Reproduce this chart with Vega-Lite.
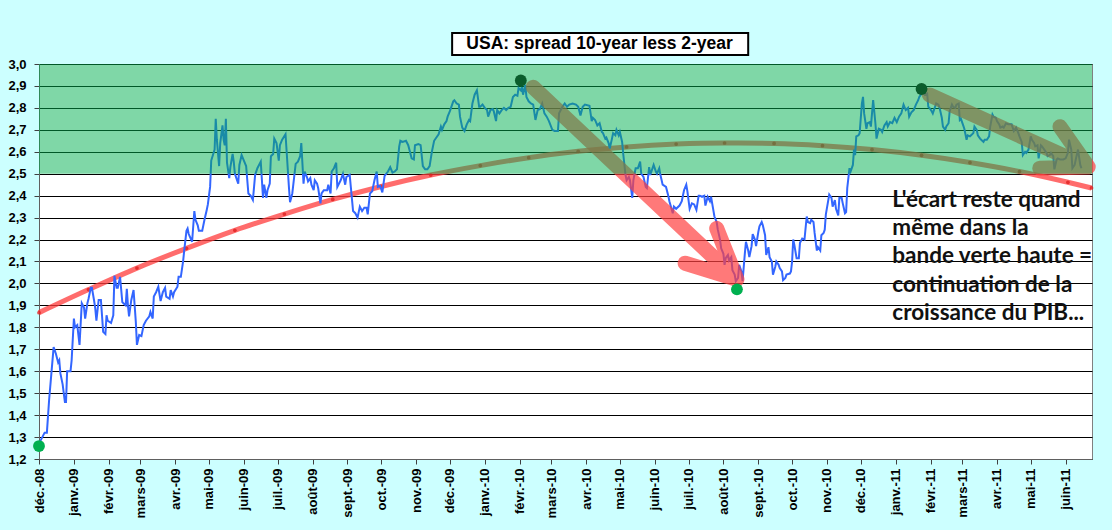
{
  "$schema": "https://vega.github.io/schema/vega-lite/v6.json",
  "width": 1053,
  "height": 395,
  "autosize": {"type": "none"},
  "padding": {"left": 39, "top": 64, "right": 20, "bottom": 71},
  "background": "#CCFFFF",
  "config": {
    "view": {"fill": "white", "stroke": "#808080", "strokeWidth": 1},
    "axis": {
      "labelFont": "Liberation Sans",
      "labelFontWeight": "bold",
      "labelFontSize": 13,
      "labelColor": "black",
      "domainColor": "#606060",
      "tickColor": "#404040",
      "tickSize": 5,
      "title": null
    }
  },
  "datasets": {
    "spread": [
      {"d": "2008-12-01", "v": 1.27}, {"d": "2008-12-06", "v": 1.32}, {"d": "2008-12-08", "v": 1.32}, {"d": "2008-12-10", "v": 1.47},
      {"d": "2008-12-12", "v": 1.59}, {"d": "2008-12-14", "v": 1.71}, {"d": "2008-12-16", "v": 1.68}, {"d": "2008-12-18", "v": 1.64},
      {"d": "2008-12-19", "v": 1.65}, {"d": "2008-12-20", "v": 1.59}, {"d": "2008-12-22", "v": 1.54}, {"d": "2008-12-24", "v": 1.46},
      {"d": "2008-12-25", "v": 1.46}, {"d": "2008-12-26", "v": 1.60}, {"d": "2008-12-29", "v": 1.60}, {"d": "2008-12-30", "v": 1.65},
      {"d": "2009-01-01", "v": 1.84}, {"d": "2009-01-02", "v": 1.80}, {"d": "2009-01-04", "v": 1.81}, {"d": "2009-01-06", "v": 1.72},
      {"d": "2009-01-08", "v": 1.91}, {"d": "2009-01-10", "v": 1.89}, {"d": "2009-01-11", "v": 1.84}, {"d": "2009-01-13", "v": 1.91},
      {"d": "2009-01-14", "v": 1.93}, {"d": "2009-01-16", "v": 1.98}, {"d": "2009-01-17", "v": 1.98}, {"d": "2009-01-19", "v": 1.92},
      {"d": "2009-01-20", "v": 1.885}, {"d": "2009-01-21", "v": 1.83}, {"d": "2009-01-23", "v": 1.925}, {"d": "2009-01-25", "v": 1.925},
      {"d": "2009-01-27", "v": 1.78}, {"d": "2009-01-29", "v": 1.77}, {"d": "2009-01-30", "v": 1.855}, {"d": "2009-01-31", "v": 1.83},
      {"d": "2009-02-03", "v": 1.82}, {"d": "2009-02-05", "v": 1.855}, {"d": "2009-02-06", "v": 2.035}, {"d": "2009-02-08", "v": 1.98},
      {"d": "2009-02-09", "v": 1.98}, {"d": "2009-02-11", "v": 2.03}, {"d": "2009-02-13", "v": 1.915}, {"d": "2009-02-14", "v": 1.91},
      {"d": "2009-02-16", "v": 1.90}, {"d": "2009-02-17", "v": 1.975}, {"d": "2009-02-18", "v": 1.90}, {"d": "2009-02-19", "v": 1.85},
      {"d": "2009-02-21", "v": 1.925}, {"d": "2009-02-23", "v": 1.97}, {"d": "2009-02-25", "v": 1.825}, {"d": "2009-02-26", "v": 1.72},
      {"d": "2009-02-28", "v": 1.765}, {"d": "2009-03-02", "v": 1.76}, {"d": "2009-03-04", "v": 1.81}, {"d": "2009-03-06", "v": 1.83},
      {"d": "2009-03-09", "v": 1.85}, {"d": "2009-03-10", "v": 1.87}, {"d": "2009-03-12", "v": 1.84}, {"d": "2009-03-13", "v": 1.94},
      {"d": "2009-03-15", "v": 1.96}, {"d": "2009-03-17", "v": 1.985}, {"d": "2009-03-19", "v": 1.92}, {"d": "2009-03-21", "v": 1.96},
      {"d": "2009-03-23", "v": 1.98}, {"d": "2009-03-24", "v": 1.94}, {"d": "2009-03-27", "v": 1.93}, {"d": "2009-03-28", "v": 1.97},
      {"d": "2009-03-30", "v": 1.94}, {"d": "2009-03-31", "v": 1.96}, {"d": "2009-04-03", "v": 1.985}, {"d": "2009-04-04", "v": 2.03},
      {"d": "2009-04-06", "v": 2.03}, {"d": "2009-04-08", "v": 2.10}, {"d": "2009-04-09", "v": 2.15}, {"d": "2009-04-11", "v": 2.24},
      {"d": "2009-04-12", "v": 2.25}, {"d": "2009-04-13", "v": 2.225}, {"d": "2009-04-16", "v": 2.19}, {"d": "2009-04-18", "v": 2.33},
      {"d": "2009-04-19", "v": 2.29}, {"d": "2009-04-21", "v": 2.265}, {"d": "2009-04-22", "v": 2.24}, {"d": "2009-04-25", "v": 2.24},
      {"d": "2009-04-27", "v": 2.29}, {"d": "2009-04-29", "v": 2.335}, {"d": "2009-04-30", "v": 2.36}, {"d": "2009-05-02", "v": 2.44},
      {"d": "2009-05-03", "v": 2.56}, {"d": "2009-05-06", "v": 2.61}, {"d": "2009-05-07", "v": 2.75}, {"d": "2009-05-08", "v": 2.655},
      {"d": "2009-05-10", "v": 2.535}, {"d": "2009-05-11", "v": 2.64}, {"d": "2009-05-13", "v": 2.72}, {"d": "2009-05-14", "v": 2.655},
      {"d": "2009-05-15", "v": 2.63}, {"d": "2009-05-16", "v": 2.75}, {"d": "2009-05-17", "v": 2.55}, {"d": "2009-05-19", "v": 2.48},
      {"d": "2009-05-20", "v": 2.53}, {"d": "2009-05-22", "v": 2.59}, {"d": "2009-05-23", "v": 2.555}, {"d": "2009-05-24", "v": 2.50},
      {"d": "2009-05-27", "v": 2.455}, {"d": "2009-05-28", "v": 2.54}, {"d": "2009-05-30", "v": 2.585}, {"d": "2009-06-01", "v": 2.56},
      {"d": "2009-06-03", "v": 2.535}, {"d": "2009-06-05", "v": 2.41}, {"d": "2009-06-07", "v": 2.40}, {"d": "2009-06-09", "v": 2.38},
      {"d": "2009-06-11", "v": 2.495}, {"d": "2009-06-13", "v": 2.525}, {"d": "2009-06-16", "v": 2.555}, {"d": "2009-06-18", "v": 2.39},
      {"d": "2009-06-19", "v": 2.45}, {"d": "2009-06-21", "v": 2.39}, {"d": "2009-06-22", "v": 2.425}, {"d": "2009-06-24", "v": 2.455},
      {"d": "2009-06-25", "v": 2.58}, {"d": "2009-06-27", "v": 2.59}, {"d": "2009-06-28", "v": 2.66}, {"d": "2009-06-30", "v": 2.64},
      {"d": "2009-07-02", "v": 2.56}, {"d": "2009-07-03", "v": 2.63}, {"d": "2009-07-05", "v": 2.655}, {"d": "2009-07-08", "v": 2.68},
      {"d": "2009-07-09", "v": 2.60}, {"d": "2009-07-11", "v": 2.44}, {"d": "2009-07-12", "v": 2.37}, {"d": "2009-07-14", "v": 2.41},
      {"d": "2009-07-15", "v": 2.455}, {"d": "2009-07-17", "v": 2.545}, {"d": "2009-07-19", "v": 2.555}, {"d": "2009-07-21", "v": 2.58},
      {"d": "2009-07-22", "v": 2.64}, {"d": "2009-07-24", "v": 2.455}, {"d": "2009-07-25", "v": 2.51}, {"d": "2009-07-27", "v": 2.485},
      {"d": "2009-07-28", "v": 2.465}, {"d": "2009-07-30", "v": 2.48}, {"d": "2009-07-31", "v": 2.45}, {"d": "2009-08-02", "v": 2.425},
      {"d": "2009-08-03", "v": 2.47}, {"d": "2009-08-05", "v": 2.455}, {"d": "2009-08-06", "v": 2.435}, {"d": "2009-08-08", "v": 2.365},
      {"d": "2009-08-09", "v": 2.41}, {"d": "2009-08-11", "v": 2.425}, {"d": "2009-08-14", "v": 2.425}, {"d": "2009-08-15", "v": 2.45},
      {"d": "2009-08-17", "v": 2.41}, {"d": "2009-08-18", "v": 2.51}, {"d": "2009-08-20", "v": 2.525}, {"d": "2009-08-22", "v": 2.55},
      {"d": "2009-08-23", "v": 2.44}, {"d": "2009-08-26", "v": 2.47}, {"d": "2009-08-28", "v": 2.50}, {"d": "2009-08-30", "v": 2.45},
      {"d": "2009-08-31", "v": 2.485}, {"d": "2009-09-03", "v": 2.495}, {"d": "2009-09-04", "v": 2.44}, {"d": "2009-09-06", "v": 2.33},
      {"d": "2009-09-08", "v": 2.32}, {"d": "2009-09-10", "v": 2.30}, {"d": "2009-09-12", "v": 2.35}, {"d": "2009-09-14", "v": 2.33},
      {"d": "2009-09-16", "v": 2.345}, {"d": "2009-09-18", "v": 2.345}, {"d": "2009-09-19", "v": 2.315}, {"d": "2009-09-21", "v": 2.41},
      {"d": "2009-09-23", "v": 2.42}, {"d": "2009-09-25", "v": 2.47}, {"d": "2009-09-27", "v": 2.51}, {"d": "2009-09-28", "v": 2.44},
      {"d": "2009-09-30", "v": 2.445}, {"d": "2009-10-02", "v": 2.415}, {"d": "2009-10-04", "v": 2.49}, {"d": "2009-10-07", "v": 2.51},
      {"d": "2009-10-09", "v": 2.53}, {"d": "2009-10-11", "v": 2.505}, {"d": "2009-10-13", "v": 2.51}, {"d": "2009-10-15", "v": 2.52},
      {"d": "2009-10-17", "v": 2.625}, {"d": "2009-10-18", "v": 2.65}, {"d": "2009-10-20", "v": 2.645}, {"d": "2009-10-23", "v": 2.65},
      {"d": "2009-10-25", "v": 2.63}, {"d": "2009-10-26", "v": 2.61}, {"d": "2009-10-28", "v": 2.57}, {"d": "2009-10-30", "v": 2.565},
      {"d": "2009-10-31", "v": 2.63}, {"d": "2009-11-03", "v": 2.635}, {"d": "2009-11-05", "v": 2.63}, {"d": "2009-11-07", "v": 2.535},
      {"d": "2009-11-09", "v": 2.52}, {"d": "2009-11-11", "v": 2.52}, {"d": "2009-11-13", "v": 2.535}, {"d": "2009-11-15", "v": 2.60},
      {"d": "2009-11-17", "v": 2.65}, {"d": "2009-11-19", "v": 2.665}, {"d": "2009-11-21", "v": 2.68}, {"d": "2009-11-23", "v": 2.715},
      {"d": "2009-11-24", "v": 2.70}, {"d": "2009-11-26", "v": 2.725}, {"d": "2009-11-28", "v": 2.74}, {"d": "2009-11-29", "v": 2.76},
      {"d": "2009-12-01", "v": 2.785}, {"d": "2009-12-02", "v": 2.80}, {"d": "2009-12-04", "v": 2.83}, {"d": "2009-12-05", "v": 2.835},
      {"d": "2009-12-07", "v": 2.82}, {"d": "2009-12-09", "v": 2.815}, {"d": "2009-12-10", "v": 2.76}, {"d": "2009-12-12", "v": 2.71},
      {"d": "2009-12-14", "v": 2.695}, {"d": "2009-12-16", "v": 2.725}, {"d": "2009-12-18", "v": 2.745}, {"d": "2009-12-19", "v": 2.74},
      {"d": "2009-12-21", "v": 2.82}, {"d": "2009-12-23", "v": 2.86}, {"d": "2009-12-25", "v": 2.88}, {"d": "2009-12-27", "v": 2.805},
      {"d": "2009-12-28", "v": 2.805}, {"d": "2009-12-30", "v": 2.815}, {"d": "2010-01-01", "v": 2.80}, {"d": "2010-01-03", "v": 2.79},
      {"d": "2010-01-04", "v": 2.76}, {"d": "2010-01-06", "v": 2.79}, {"d": "2010-01-08", "v": 2.795}, {"d": "2010-01-09", "v": 2.785},
      {"d": "2010-01-11", "v": 2.74}, {"d": "2010-01-12", "v": 2.79}, {"d": "2010-01-14", "v": 2.775}, {"d": "2010-01-16", "v": 2.79},
      {"d": "2010-01-18", "v": 2.80}, {"d": "2010-01-20", "v": 2.79}, {"d": "2010-01-22", "v": 2.80}, {"d": "2010-01-24", "v": 2.805},
      {"d": "2010-01-26", "v": 2.85}, {"d": "2010-01-28", "v": 2.86}, {"d": "2010-01-30", "v": 2.855}, {"d": "2010-01-31", "v": 2.89},
      {"d": "2010-02-02", "v": 2.88}, {"d": "2010-02-03", "v": 2.895}, {"d": "2010-02-04", "v": 2.86}, {"d": "2010-02-06", "v": 2.905},
      {"d": "2010-02-07", "v": 2.85}, {"d": "2010-02-09", "v": 2.83}, {"d": "2010-02-11", "v": 2.82}, {"d": "2010-02-13", "v": 2.815},
      {"d": "2010-02-15", "v": 2.745}, {"d": "2010-02-17", "v": 2.79}, {"d": "2010-02-19", "v": 2.795}, {"d": "2010-02-21", "v": 2.82},
      {"d": "2010-02-23", "v": 2.775}, {"d": "2010-02-25", "v": 2.76}, {"d": "2010-02-27", "v": 2.74}, {"d": "2010-03-02", "v": 2.70},
      {"d": "2010-03-04", "v": 2.695}, {"d": "2010-03-07", "v": 2.695}, {"d": "2010-03-08", "v": 2.775}, {"d": "2010-03-11", "v": 2.805},
      {"d": "2010-03-13", "v": 2.82}, {"d": "2010-03-15", "v": 2.805}, {"d": "2010-03-17", "v": 2.815}, {"d": "2010-03-20", "v": 2.82},
      {"d": "2010-03-23", "v": 2.815}, {"d": "2010-03-25", "v": 2.805}, {"d": "2010-03-27", "v": 2.765}, {"d": "2010-03-29", "v": 2.805},
      {"d": "2010-03-31", "v": 2.815}, {"d": "2010-04-04", "v": 2.81}, {"d": "2010-04-06", "v": 2.74}, {"d": "2010-04-07", "v": 2.755},
      {"d": "2010-04-09", "v": 2.745}, {"d": "2010-04-11", "v": 2.72}, {"d": "2010-04-13", "v": 2.73}, {"d": "2010-04-15", "v": 2.69},
      {"d": "2010-04-16", "v": 2.685}, {"d": "2010-04-18", "v": 2.66}, {"d": "2010-04-19", "v": 2.665}, {"d": "2010-04-21", "v": 2.64},
      {"d": "2010-04-22", "v": 2.615}, {"d": "2010-04-24", "v": 2.66}, {"d": "2010-04-25", "v": 2.685}, {"d": "2010-04-27", "v": 2.675},
      {"d": "2010-04-28", "v": 2.70}, {"d": "2010-04-30", "v": 2.675}, {"d": "2010-05-01", "v": 2.69}, {"d": "2010-05-03", "v": 2.645},
      {"d": "2010-05-04", "v": 2.59}, {"d": "2010-05-06", "v": 2.495}, {"d": "2010-05-07", "v": 2.47}, {"d": "2010-05-09", "v": 2.485},
      {"d": "2010-05-10", "v": 2.47}, {"d": "2010-05-12", "v": 2.39}, {"d": "2010-05-13", "v": 2.47}, {"d": "2010-05-15", "v": 2.525},
      {"d": "2010-05-17", "v": 2.525}, {"d": "2010-05-19", "v": 2.555}, {"d": "2010-05-20", "v": 2.50}, {"d": "2010-05-22", "v": 2.485},
      {"d": "2010-05-24", "v": 2.44}, {"d": "2010-05-25", "v": 2.435}, {"d": "2010-05-27", "v": 2.53}, {"d": "2010-05-28", "v": 2.495},
      {"d": "2010-05-30", "v": 2.525}, {"d": "2010-05-31", "v": 2.54}, {"d": "2010-06-02", "v": 2.51}, {"d": "2010-06-03", "v": 2.50},
      {"d": "2010-06-05", "v": 2.525}, {"d": "2010-06-06", "v": 2.495}, {"d": "2010-06-08", "v": 2.45}, {"d": "2010-06-11", "v": 2.44},
      {"d": "2010-06-13", "v": 2.40}, {"d": "2010-06-14", "v": 2.375}, {"d": "2010-06-17", "v": 2.32}, {"d": "2010-06-18", "v": 2.35},
      {"d": "2010-06-20", "v": 2.34}, {"d": "2010-06-23", "v": 2.355}, {"d": "2010-06-25", "v": 2.375}, {"d": "2010-06-27", "v": 2.425},
      {"d": "2010-06-29", "v": 2.45}, {"d": "2010-06-30", "v": 2.42}, {"d": "2010-07-02", "v": 2.34}, {"d": "2010-07-04", "v": 2.365},
      {"d": "2010-07-06", "v": 2.36}, {"d": "2010-07-08", "v": 2.335}, {"d": "2010-07-10", "v": 2.40}, {"d": "2010-07-11", "v": 2.40},
      {"d": "2010-07-13", "v": 2.395}, {"d": "2010-07-15", "v": 2.40}, {"d": "2010-07-16", "v": 2.355}, {"d": "2010-07-18", "v": 2.395},
      {"d": "2010-07-20", "v": 2.375}, {"d": "2010-07-21", "v": 2.395}, {"d": "2010-07-23", "v": 2.335}, {"d": "2010-07-24", "v": 2.305},
      {"d": "2010-07-26", "v": 2.28}, {"d": "2010-07-27", "v": 2.245}, {"d": "2010-07-29", "v": 2.20}, {"d": "2010-07-30", "v": 2.16},
      {"d": "2010-08-01", "v": 2.135}, {"d": "2010-08-02", "v": 2.085}, {"d": "2010-08-03", "v": 2.115}, {"d": "2010-08-05", "v": 2.13},
      {"d": "2010-08-06", "v": 2.105}, {"d": "2010-08-08", "v": 2.12}, {"d": "2010-08-09", "v": 2.06}, {"d": "2010-08-11", "v": 2.04},
      {"d": "2010-08-12", "v": 2.01}, {"d": "2010-08-14", "v": 2.025}, {"d": "2010-08-15", "v": 2.085}, {"d": "2010-08-17", "v": 2.055},
      {"d": "2010-08-18", "v": 2.01}, {"d": "2010-08-20", "v": 2.135}, {"d": "2010-08-21", "v": 2.19}, {"d": "2010-08-23", "v": 2.15},
      {"d": "2010-08-24", "v": 2.12}, {"d": "2010-08-26", "v": 2.17}, {"d": "2010-08-27", "v": 2.225}, {"d": "2010-08-29", "v": 2.20},
      {"d": "2010-08-30", "v": 2.17}, {"d": "2010-09-01", "v": 2.235}, {"d": "2010-09-02", "v": 2.26}, {"d": "2010-09-04", "v": 2.28},
      {"d": "2010-09-05", "v": 2.265}, {"d": "2010-09-07", "v": 2.22}, {"d": "2010-09-08", "v": 2.13}, {"d": "2010-09-10", "v": 2.165},
      {"d": "2010-09-11", "v": 2.12}, {"d": "2010-09-13", "v": 2.10}, {"d": "2010-09-14", "v": 2.04}, {"d": "2010-09-16", "v": 2.075},
      {"d": "2010-09-17", "v": 2.10}, {"d": "2010-09-19", "v": 2.085}, {"d": "2010-09-20", "v": 2.07}, {"d": "2010-09-22", "v": 2.055},
      {"d": "2010-09-23", "v": 2.015}, {"d": "2010-09-25", "v": 2.025}, {"d": "2010-09-26", "v": 2.04}, {"d": "2010-09-29", "v": 2.045},
      {"d": "2010-09-30", "v": 2.055}, {"d": "2010-10-01", "v": 2.10}, {"d": "2010-10-02", "v": 2.20}, {"d": "2010-10-03", "v": 2.175},
      {"d": "2010-10-05", "v": 2.115}, {"d": "2010-10-07", "v": 2.115}, {"d": "2010-10-08", "v": 2.185}, {"d": "2010-10-10", "v": 2.205},
      {"d": "2010-10-12", "v": 2.20}, {"d": "2010-10-14", "v": 2.305}, {"d": "2010-10-15", "v": 2.28}, {"d": "2010-10-17", "v": 2.275},
      {"d": "2010-10-18", "v": 2.29}, {"d": "2010-10-20", "v": 2.28}, {"d": "2010-10-21", "v": 2.23}, {"d": "2010-10-23", "v": 2.15},
      {"d": "2010-10-24", "v": 2.165}, {"d": "2010-10-26", "v": 2.15}, {"d": "2010-10-27", "v": 2.22}, {"d": "2010-10-29", "v": 2.23},
      {"d": "2010-10-30", "v": 2.245}, {"d": "2010-10-31", "v": 2.315}, {"d": "2010-11-02", "v": 2.375}, {"d": "2010-11-03", "v": 2.405},
      {"d": "2010-11-05", "v": 2.39}, {"d": "2010-11-06", "v": 2.35}, {"d": "2010-11-08", "v": 2.38}, {"d": "2010-11-09", "v": 2.34},
      {"d": "2010-11-11", "v": 2.31}, {"d": "2010-11-12", "v": 2.39}, {"d": "2010-11-14", "v": 2.39}, {"d": "2010-11-15", "v": 2.365},
      {"d": "2010-11-17", "v": 2.32}, {"d": "2010-11-18", "v": 2.325}, {"d": "2010-11-19", "v": 2.435}, {"d": "2010-11-21", "v": 2.525},
      {"d": "2010-11-22", "v": 2.51}, {"d": "2010-11-24", "v": 2.54}, {"d": "2010-11-25", "v": 2.61}, {"d": "2010-11-26", "v": 2.585},
      {"d": "2010-11-27", "v": 2.67}, {"d": "2010-11-29", "v": 2.675}, {"d": "2010-11-30", "v": 2.685}, {"d": "2010-12-02", "v": 2.82},
      {"d": "2010-12-03", "v": 2.85}, {"d": "2010-12-04", "v": 2.775}, {"d": "2010-12-06", "v": 2.705}, {"d": "2010-12-07", "v": 2.73},
      {"d": "2010-12-09", "v": 2.735}, {"d": "2010-12-10", "v": 2.715}, {"d": "2010-12-12", "v": 2.835}, {"d": "2010-12-14", "v": 2.73},
      {"d": "2010-12-15", "v": 2.66}, {"d": "2010-12-17", "v": 2.705}, {"d": "2010-12-19", "v": 2.70}, {"d": "2010-12-20", "v": 2.69},
      {"d": "2010-12-22", "v": 2.72}, {"d": "2010-12-24", "v": 2.735}, {"d": "2010-12-25", "v": 2.715}, {"d": "2010-12-27", "v": 2.735},
      {"d": "2010-12-29", "v": 2.73}, {"d": "2010-12-31", "v": 2.755}, {"d": "2011-01-02", "v": 2.735}, {"d": "2011-01-04", "v": 2.76},
      {"d": "2011-01-06", "v": 2.775}, {"d": "2011-01-08", "v": 2.815}, {"d": "2011-01-10", "v": 2.79}, {"d": "2011-01-12", "v": 2.80},
      {"d": "2011-01-13", "v": 2.76}, {"d": "2011-01-15", "v": 2.78}, {"d": "2011-01-17", "v": 2.79}, {"d": "2011-01-19", "v": 2.815},
      {"d": "2011-01-21", "v": 2.835}, {"d": "2011-01-22", "v": 2.85}, {"d": "2011-01-24", "v": 2.865}, {"d": "2011-01-26", "v": 2.88},
      {"d": "2011-01-27", "v": 2.86}, {"d": "2011-01-29", "v": 2.865}, {"d": "2011-01-30", "v": 2.805}, {"d": "2011-01-31", "v": 2.80},
      {"d": "2011-02-02", "v": 2.785}, {"d": "2011-02-03", "v": 2.775}, {"d": "2011-02-05", "v": 2.805}, {"d": "2011-02-06", "v": 2.82},
      {"d": "2011-02-08", "v": 2.815}, {"d": "2011-02-09", "v": 2.80}, {"d": "2011-02-11", "v": 2.755}, {"d": "2011-02-12", "v": 2.715},
      {"d": "2011-02-14", "v": 2.70}, {"d": "2011-02-15", "v": 2.715}, {"d": "2011-02-17", "v": 2.73}, {"d": "2011-02-18", "v": 2.785},
      {"d": "2011-02-20", "v": 2.815}, {"d": "2011-02-21", "v": 2.805}, {"d": "2011-02-23", "v": 2.80}, {"d": "2011-02-24", "v": 2.815},
      {"d": "2011-02-26", "v": 2.82}, {"d": "2011-02-27", "v": 2.745}, {"d": "2011-02-28", "v": 2.75}, {"d": "2011-03-02", "v": 2.72},
      {"d": "2011-03-03", "v": 2.705}, {"d": "2011-03-05", "v": 2.655}, {"d": "2011-03-06", "v": 2.675}, {"d": "2011-03-08", "v": 2.67},
      {"d": "2011-03-09", "v": 2.675}, {"d": "2011-03-11", "v": 2.685}, {"d": "2011-03-12", "v": 2.715}, {"d": "2011-03-14", "v": 2.70},
      {"d": "2011-03-15", "v": 2.675}, {"d": "2011-03-17", "v": 2.66}, {"d": "2011-03-18", "v": 2.655}, {"d": "2011-03-20", "v": 2.645},
      {"d": "2011-03-21", "v": 2.655}, {"d": "2011-03-23", "v": 2.655}, {"d": "2011-03-25", "v": 2.67}, {"d": "2011-03-26", "v": 2.715},
      {"d": "2011-03-28", "v": 2.77}, {"d": "2011-03-29", "v": 2.76}, {"d": "2011-03-31", "v": 2.755}, {"d": "2011-04-01", "v": 2.74},
      {"d": "2011-04-03", "v": 2.725}, {"d": "2011-04-04", "v": 2.71}, {"d": "2011-04-06", "v": 2.715}, {"d": "2011-04-07", "v": 2.71},
      {"d": "2011-04-09", "v": 2.73}, {"d": "2011-04-11", "v": 2.725}, {"d": "2011-04-14", "v": 2.725}, {"d": "2011-04-16", "v": 2.695},
      {"d": "2011-04-18", "v": 2.71}, {"d": "2011-04-20", "v": 2.685}, {"d": "2011-04-21", "v": 2.67}, {"d": "2011-04-23", "v": 2.645},
      {"d": "2011-04-24", "v": 2.585}, {"d": "2011-04-26", "v": 2.60}, {"d": "2011-04-27", "v": 2.595}, {"d": "2011-04-29", "v": 2.61},
      {"d": "2011-05-01", "v": 2.67}, {"d": "2011-05-02", "v": 2.655}, {"d": "2011-05-04", "v": 2.64}, {"d": "2011-05-05", "v": 2.625},
      {"d": "2011-05-07", "v": 2.63}, {"d": "2011-05-08", "v": 2.57}, {"d": "2011-05-10", "v": 2.63}, {"d": "2011-05-11", "v": 2.625},
      {"d": "2011-05-13", "v": 2.61}, {"d": "2011-05-15", "v": 2.595}, {"d": "2011-05-16", "v": 2.58}, {"d": "2011-05-18", "v": 2.585},
      {"d": "2011-05-19", "v": 2.595}, {"d": "2011-05-21", "v": 2.58}, {"d": "2011-05-22", "v": 2.52}, {"d": "2011-05-24", "v": 2.565},
      {"d": "2011-05-25", "v": 2.57}, {"d": "2011-05-27", "v": 2.565}, {"d": "2011-05-30", "v": 2.565}, {"d": "2011-06-01", "v": 2.57},
      {"d": "2011-06-03", "v": 2.595}, {"d": "2011-06-04", "v": 2.655}, {"d": "2011-06-06", "v": 2.61}, {"d": "2011-06-07", "v": 2.525},
      {"d": "2011-06-09", "v": 2.54}, {"d": "2011-06-10", "v": 2.565}, {"d": "2011-06-12", "v": 2.61}, {"d": "2011-06-14", "v": 2.54},
      {"d": "2011-06-15", "v": 2.525}
    ],
    "trend": [
      {"d": "2008-12-01", "v": 1.867}, {"d": "2009-01-14", "v": 1.972}, {"d": "2009-02-26", "v": 2.070}, {"d": "2009-04-11", "v": 2.160},
      {"d": "2009-05-24", "v": 2.242}, {"d": "2009-07-07", "v": 2.316}, {"d": "2009-08-19", "v": 2.383}, {"d": "2009-10-01", "v": 2.442},
      {"d": "2009-11-14", "v": 2.494}, {"d": "2009-12-28", "v": 2.537}, {"d": "2010-02-09", "v": 2.573}, {"d": "2010-03-25", "v": 2.602},
      {"d": "2010-05-07", "v": 2.622}, {"d": "2010-06-20", "v": 2.635}, {"d": "2010-08-02", "v": 2.640}, {"d": "2010-09-15", "v": 2.638},
      {"d": "2010-10-28", "v": 2.628}, {"d": "2010-12-11", "v": 2.610}, {"d": "2011-01-24", "v": 2.584}, {"d": "2011-03-08", "v": 2.551},
      {"d": "2011-04-21", "v": 2.510}, {"d": "2011-06-03", "v": 2.461}, {"d": "2011-06-24", "v": 2.435}
    ],
    "arrows": [
      {"arrow": "a", "o": 0, "d": "2010-02-13", "v": 2.894},
      {"arrow": "a", "o": 1, "d": "2010-08-13", "v": 2.019},
      {"arrow": "a", "o": 2, "d": "2010-07-26", "v": 2.251},
      {"arrow": "a", "o": 3, "d": "2010-08-13", "v": 2.019},
      {"arrow": "a", "o": 4, "d": "2010-06-28", "v": 2.092},
      {"arrow": "b", "o": 0, "d": "2011-01-31", "v": 2.859},
      {"arrow": "b", "o": 1, "d": "2011-06-21", "v": 2.531},
      {"arrow": "b", "o": 2, "d": "2011-05-27", "v": 2.714},
      {"arrow": "b", "o": 3, "d": "2011-06-21", "v": 2.531},
      {"arrow": "b", "o": 4, "d": "2011-05-09", "v": 2.525}
    ]
  },
  "encoding": {
    "x": {
      "field": "d",
      "type": "temporal",
      "scale": {"domain": [{"year": 2008, "month": 12, "date": 1}, {"year": 2011, "month": 6, "date": 24, "hours": 10}], "nice": false},
      "axis": {
        "tickCount": {"interval": "month", "step": 1},
        "labelAngle": -90,
        "labelAlign": "right",
        "labelBaseline": "middle",
        "labelFontSize": 13,
        "labelPadding": 4,
        "grid": false,
        "labelOverlap": false,
        "labelExpr": "['janv.','févr.','mars','avr.','mai','juin','juil.','août','sept.','oct.','nov.','déc.'][month(datum.value)] + '-' + timeFormat(datum.value, '%y')"
      }
    },
    "y": {
      "field": "v",
      "type": "quantitative",
      "scale": {"domain": [1.2, 3.0], "nice": false, "zero": false},
      "axis": {
        "values": [1.2, 1.3, 1.4, 1.5, 1.6, 1.7, 1.8, 1.9, 2.0, 2.1, 2.2, 2.3, 2.4, 2.5, 2.6, 2.7, 2.8, 2.9, 3.0],
        "grid": true,
        "gridColor": "black",
        "gridOpacity": 1,
        "gridWidth": 1,
        "labelPadding": 8,
        "labelExpr": "replace(format(datum.value, '.1f'), '.', ',')"
      }
    }
  },
  "layer": [
    {
      "data": {"name": "trend"},
      "mark": {"type": "line", "color": "#FF3B3B", "opacity": 0.75, "strokeWidth": 5, "interpolate": "monotone", "point": {"filled": true, "size": 14, "color": "#E02020", "opacity": 0.8}}
    },
    {
      "data": {"name": "spread"},
      "mark": {"type": "line", "color": "#3366FF", "strokeWidth": 2}
    },
    {
      "data": {"name": "arrows"},
      "mark": {"type": "line", "color": "#FF4040", "opacity": 0.7, "strokeWidth": 15, "strokeCap": "round", "strokeJoin": "round"},
      "encoding": {
        "detail": {"field": "arrow"},
        "order": {"field": "o", "type": "quantitative"}
      }
    },
    {
      "data": {"values": [{"d": "2008-12-01", "d2": "2011-06-24T10:00:00", "v": 2.5, "v2": 3.0}]},
      "mark": {"type": "rect", "color": "#00B050", "opacity": 0.5},
      "encoding": {
        "x2": {"field": "d2"},
        "y2": {"field": "v2"}
      }
    },
    {
      "data": {"values": [{"d": "2010-02-02", "v": 2.925}, {"d": "2011-01-24", "v": 2.886}]},
      "mark": {"type": "point", "filled": true, "size": 140, "color": "#0B5C2C", "opacity": 1}
    },
    {
      "data": {"values": [{"d": "2008-12-01", "v": 1.259}, {"d": "2010-08-13", "v": 1.973}]},
      "mark": {"type": "point", "filled": true, "size": 140, "color": "#00B050", "opacity": 1}
    },
    {
      "data": {"values": [{"d": "2009-12-03", "d2": "2010-08-23", "v": 3.041, "v2": 3.141}]},
      "mark": {"type": "rect", "fill": "white", "stroke": "black", "strokeWidth": 2},
      "encoding": {
        "x2": {"field": "d2"},
        "y2": {"field": "v2"}
      }
    },
    {
      "data": {"values": [{"d": "2010-04-13", "v": 3.091}]},
      "mark": {"type": "text", "text": "USA: spread 10-year less 2-year", "font": "Liberation Sans", "fontWeight": "bold", "fontSize": 17.5, "align": "center", "baseline": "middle", "color": "black"}
    },
    {
      "data": {"values": [{"d": "2010-12-29", "v": 2.35}]},
      "mark": {
        "type": "text",
        "text": ["L'écart reste quand", "même dans la", "bande verte haute =", "continuation de la", "croissance du PIB..."],
        "font": "Lato",
        "fontWeight": "bold",
        "fontSize": 22.5,
        "lineHeight": 28.4,
        "align": "left",
        "baseline": "alphabetic",
        "color": "#111111"
      }
    }
  ]
}
